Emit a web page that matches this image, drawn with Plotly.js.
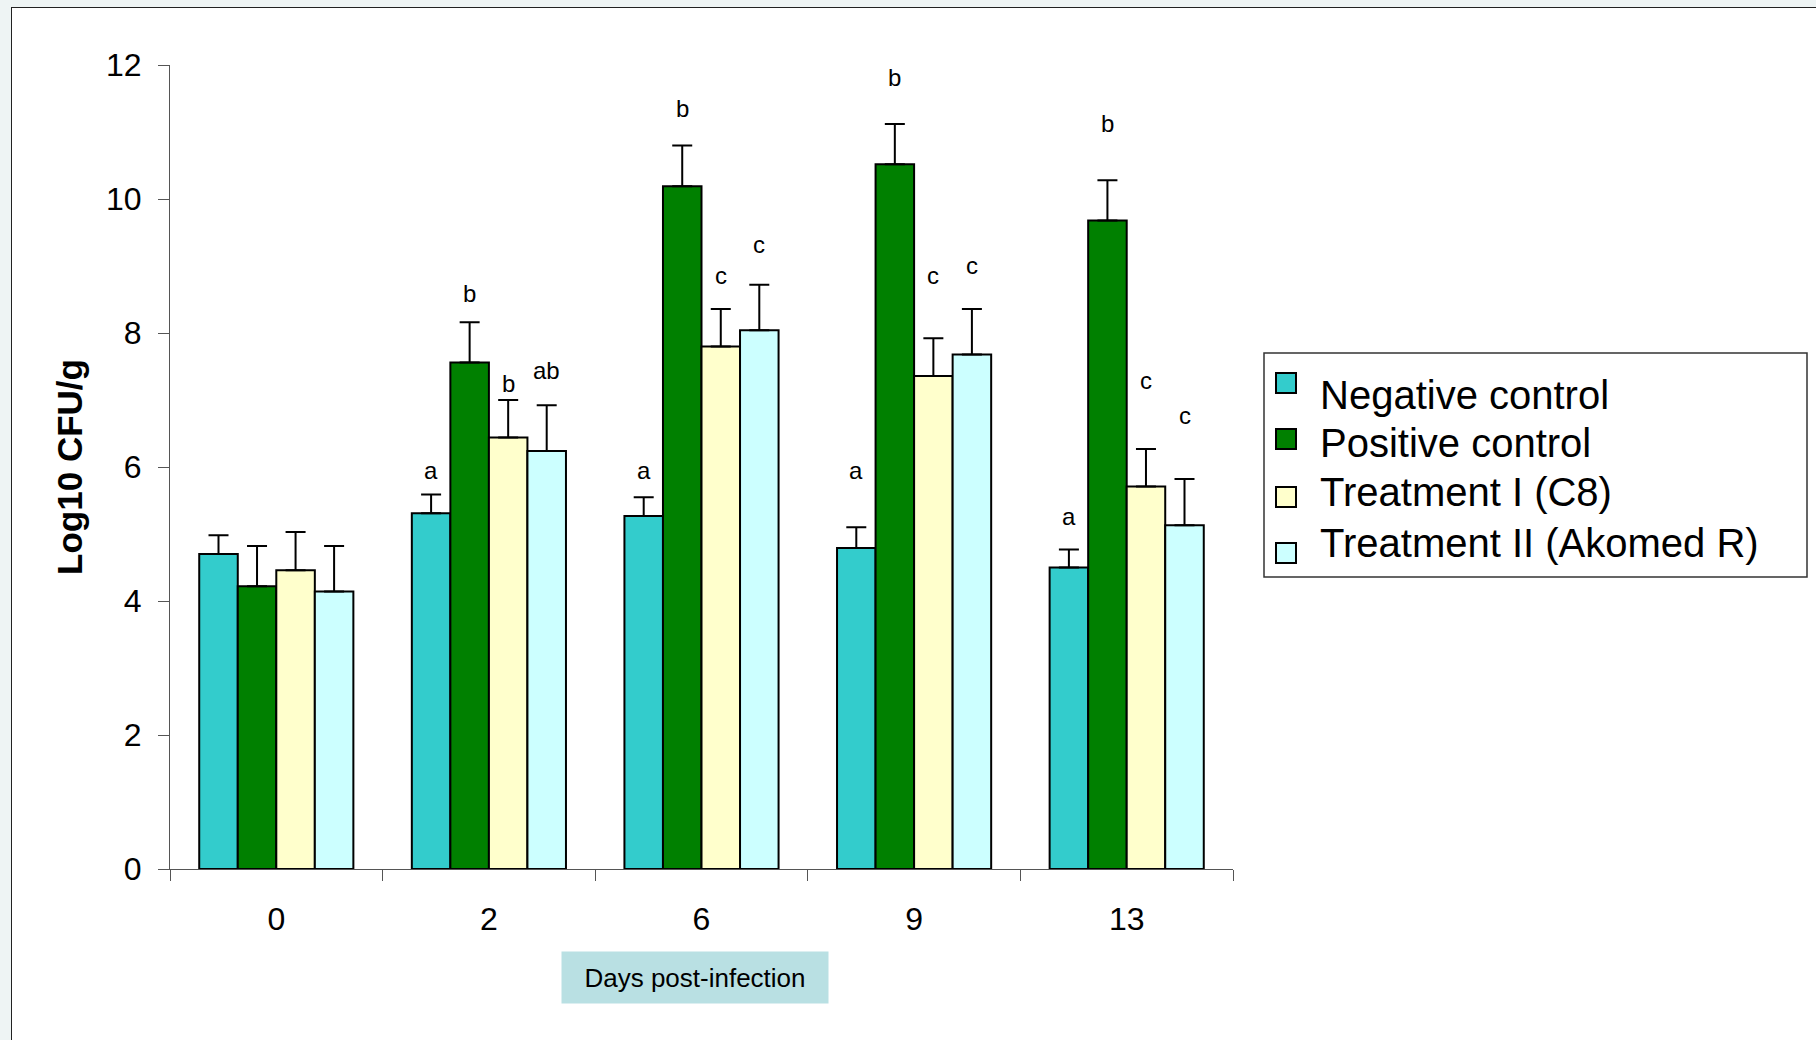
<!DOCTYPE html>
<html>
<head>
<meta charset="utf-8">
<script src="https://cdn.plot.ly/plotly-3.0.1.min.js"></script>
<style>
  html, body { margin: 0; padding: 0; background: #eef4f4; width: 1816px; height: 1040px; overflow: hidden; }
  #frame { position: absolute; left: 11px; top: 7px; width: 1820px; height: 1050px; background: #ffffff;
           border-top: 1.5px solid #222; border-left: 1.5px solid #222; }
  #chart { position: absolute; left: 0; top: 0; width: 1816px; height: 1040px; }
</style>
</head>
<body>
<div id="frame"></div>
<div id="chart"></div>
<script>
// ---- data ----
const days = ['0', '2', '6', '9', '13'];
const seriesNames = ['Negative control', 'Positive control', 'Treatment I (C8)', 'Treatment II (Akomed R)'];

const negative    = [4.70, 5.31, 5.27, 4.79, 4.50];
const negativeErr = [0.28, 0.28, 0.28, 0.31, 0.27];
const positive    = [4.22, 7.56, 10.19, 10.52, 9.68];
const positiveErr = [0.60, 0.60, 0.61, 0.60, 0.60];
const treat1      = [4.46, 6.44, 7.80, 7.36, 5.71];
const treat1Err   = [0.57, 0.56, 0.56, 0.56, 0.56];
const treat2      = [4.14, 6.24, 8.04, 7.68, 5.13];
const treat2Err   = [0.68, 0.68, 0.68, 0.68, 0.69];

// significance letters per series (per day) and the height (in data units) where each sits
const negLetters   = ['', 'a', 'a', 'a', 'a'];
const negLetterY   = [null, 5.95, 5.95, 5.95, 5.26];
const posLetters   = ['', 'b', 'b', 'b', 'b'];
const posLetterY   = [null, 8.59, 11.35, 11.82, 11.12];
const t1Letters    = ['', 'b', 'c', 'c', 'c'];
const t1LetterY    = [null, 7.25, 8.86, 8.86, 7.29];
const t2Letters    = ['', 'ab', 'c', 'c', 'c'];
const t2LetterY    = [null, 7.44, 9.32, 9.01, 6.77];

// ---- styling ----
const colors = ['#33CCCC', '#008000', '#FFFFCC', '#CCFFFF'];
const FONT = '"Liberation Sans", Arial, Helvetica, sans-serif';

const values = [negative, positive, treat1, treat2];
const errs = [negativeErr, positiveErr, treat1Err, treat2Err];
const letters = [negLetters, posLetters, t1Letters, t2Letters];
const letterY = [negLetterY, posLetterY, t1LetterY, t2LetterY];

const traces = values.map((v, i) => ({
  type: 'bar', x: days, y: v, name: seriesNames[i], showlegend: false,
  marker: { color: colors[i], line: { color: '#000', width: 2 } },
  error_y: { type: 'data', symmetric: false, array: errs[i], arrayminus: v.map(() => 0),
             color: '#000', thickness: 2, width: 10 },
  hoverinfo: 'x+y+name'
}));

// plot-area geometry (pixels) used to place legend / label in paper space
const M = { l: 170, r: 583, t: 65, b: 171 };
const W = 1816, H = 1040;
const pw = W - M.l - M.r, ph = H - M.t - M.b;
const px = x => (x - M.l) / pw;
const py = y => (H - M.b - y) / ph;

const bargap = 0.275;
const nSeries = values.length;
const bw = (1 - bargap) / nSeries;
const annotations = [];
letters.forEach((arr, s) => {
  arr.forEach((t, d) => {
    if (!t) return;
    annotations.push({
      xref: 'x', yref: 'y', x: d - (1 - bargap) / 2 + bw * (s + 0.5), y: letterY[s][d],
      text: t, showarrow: false, xanchor: 'center', yanchor: 'middle',
      font: { family: FONT, size: 24, color: '#000' }
    });
  });
});
annotations.push({
  xref: 'paper', yref: 'paper', x: px(695), y: py(977.5), xanchor: 'center', yanchor: 'middle',
  text: 'Days post-infection', showarrow: false, bgcolor: '#B9E0E3', width: 266, height: 51, borderpad: 0,
  font: { family: FONT, size: 26, color: '#000' }
});

// legend (box, swatches, labels)
const shapes = [{
  type: 'rect', xref: 'paper', yref: 'paper', x0: px(1264), x1: px(1807), y0: py(577), y1: py(353),
  line: { color: '#333', width: 1.5 }, fillcolor: '#fff', layer: 'above'
}];
const legendTextY = [395, 443, 492, 543];
const legendSwatchY = [383, 439, 497, 553];
seriesNames.forEach((n, i) => {
  shapes.push({
    type: 'rect', xref: 'paper', yref: 'paper',
    x0: px(1276), x1: px(1296), y0: py(legendSwatchY[i] + 10), y1: py(legendSwatchY[i] - 10),
    line: { color: '#000', width: 2 }, fillcolor: colors[i], layer: 'above'
  });
  annotations.push({
    xref: 'paper', yref: 'paper', x: px(1318), y: py(legendTextY[i]), xanchor: 'left', yanchor: 'middle',
    text: n, showarrow: false, font: { family: FONT, size: 40, color: '#000' }
  });
});

const layout = {
  width: W, height: H,
  margin: { l: M.l, r: M.r, t: M.t, b: M.b, pad: 0 },
  paper_bgcolor: 'rgba(0,0,0,0)', plot_bgcolor: 'rgba(0,0,0,0)',
  font: { family: FONT, color: '#000' },
  barmode: 'group', bargap: bargap, bargroupgap: 0,
  showlegend: false,
  xaxis: {
    type: 'category', showline: true, linecolor: '#555', linewidth: 1,
    ticks: 'outside', tickson: 'boundaries', ticklen: 11, tickcolor: '#555', tickwidth: 1,
    showgrid: false, zeroline: false, fixedrange: true,
    tickfont: { family: FONT, size: 32, color: '#000' }, ticklabelstandoff: 22
  },
  yaxis: {
    range: [0, 12], dtick: 2, showline: true, linecolor: '#555', linewidth: 1,
    ticks: 'outside', ticklen: 11, tickcolor: '#555', tickwidth: 1,
    showgrid: false, zeroline: false, fixedrange: true,
    tickfont: { family: FONT, size: 32, color: '#000' }, ticklabelstandoff: 10,
    title: { text: '<b>Log10 CFU/g</b>', font: { family: FONT, size: 35, color: '#000' }, standoff: 12 }
  },
  shapes: shapes,
  annotations: annotations
};

Plotly.newPlot('chart', traces, layout, { displayModeBar: false });
</script>
</body>
</html>
